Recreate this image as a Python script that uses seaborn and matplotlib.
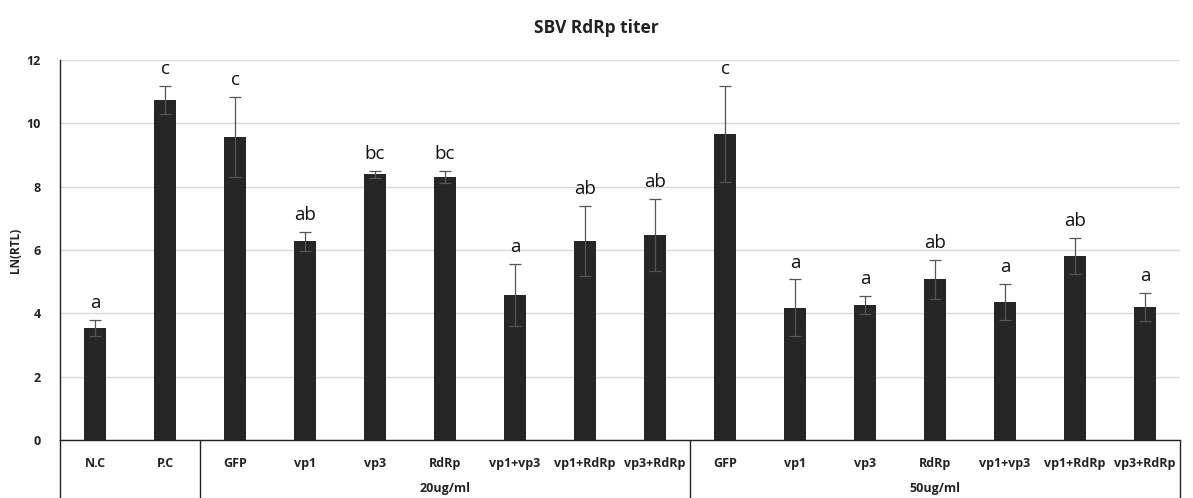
import numpy as np
import pandas as pd
import seaborn as sns
import matplotlib
matplotlib.use("Agg")
import matplotlib.pyplot as plt
from matplotlib.transforms import blended_transform_factory

categories = ["N.C", "P.C", "GFP", "vp1", "vp3", "RdRp", "vp1+vp3", "vp1+RdRp", "vp3+RdRp",
              "GFP", "vp1", "vp3", "RdRp", "vp1+vp3", "vp1+RdRp", "vp3+RdRp"]
groups = ["", "", "20ug/ml", "20ug/ml", "20ug/ml", "20ug/ml", "20ug/ml", "20ug/ml", "20ug/ml",
          "50ug/ml", "50ug/ml", "50ug/ml", "50ug/ml", "50ug/ml", "50ug/ml", "50ug/ml"]
values = [3.54, 10.73, 9.56, 6.27, 8.39, 8.30, 4.58, 6.28, 6.47,
          9.66, 4.17, 4.26, 5.08, 4.36, 5.81, 4.20]
errors = [0.24, 0.44, 1.26, 0.29, 0.12, 0.20, 0.98, 1.10, 1.13,
          1.52, 0.90, 0.28, 0.62, 0.56, 0.56, 0.43]
letters = ["a", "c", "c", "ab", "bc", "bc", "a", "ab", "ab",
           "c", "a", "a", "ab", "a", "ab", "a"]
group_labels = ["20ug/ml", "50ug/ml"]
title = "SBV RdRp titer"
ylabel = "LN(RTL)"

sns.set_theme(style="white")
plt.rcParams['font.family'] = ['Open Sans', 'DejaVu Sans']

keys = [f"{g}|{c}|{i}" for i, (g, c) in enumerate(zip(groups, categories))]
df = pd.DataFrame({"key": keys, "value": values})

fig = plt.figure(figsize=(11.93, 4.98), dpi=100)
ax = fig.add_axes([60 / 1193, 58 / 498, 1120 / 1193, 380 / 498])

sns.barplot(data=df, x="key", y="value", order=keys, color="#262626",
            width=0.31, errorbar=None, ax=ax, saturation=1, edgecolor="none")
xpos = np.arange(len(values))
ax.errorbar(xpos, values, yerr=errors, fmt="none", ecolor="#555555",
            elinewidth=0.9, capsize=4, capthick=0.9, zorder=3)

for x, v, e, l in zip(xpos, values, errors, letters):
    ax.text(x, v + e + 0.25, l, ha="center", va="bottom", fontsize=13.5, color="#111111")

ax.set_xlim(-0.5, len(values) - 0.5)
ax.set_ylim(0, 12)
ax.set_yticks(np.arange(0, 13, 2))
ax.set_yticklabels([str(t) for t in range(0, 13, 2)], fontsize=9, fontweight="bold", color="#222222")
ax.tick_params(axis="y", length=0, pad=14)
ax.yaxis.grid(True, color="#d9d9d9", linewidth=1)
ax.set_axisbelow(True)
ax.set_xticks(xpos)
ax.set_xticklabels(categories, fontsize=9, fontweight="bold", color="#222222")
ax.tick_params(axis="x", length=0, pad=12)
ax.set_xlabel("")
ax.set_ylabel(ylabel, fontsize=8.5, fontweight="bold", labelpad=3, color="#222222")

for s in ["top", "right"]:
    ax.spines[s].set_visible(False)
ax.spines["bottom"].set_color("#222222")
ax.spines["left"].set_color("#222222")
ax.spines["left"].set_linewidth(1)
ax.spines["bottom"].set_linewidth(1)

trans = blended_transform_factory(ax.transData, ax.transAxes)
for xb in [-0.5, 1.5, 8.5, len(values) - 0.5]:
    ax.plot([xb, xb], [0, -0.16], transform=trans, color="#222222", lw=1, clip_on=False)
ax.text(5, -0.128, group_labels[0], transform=trans, ha="center", va="center",
        fontsize=9, fontweight="bold", color="#222222")
ax.text(12, -0.128, group_labels[1], transform=trans, ha="center", va="center",
        fontsize=9, fontweight="bold", color="#222222")

fig.text(596 / 1193, 1 - 28 / 498, title, ha="center", va="center", fontsize=12.5,
         fontweight="bold", color="#222222")

fig.savefig("out.png", dpi=100)
